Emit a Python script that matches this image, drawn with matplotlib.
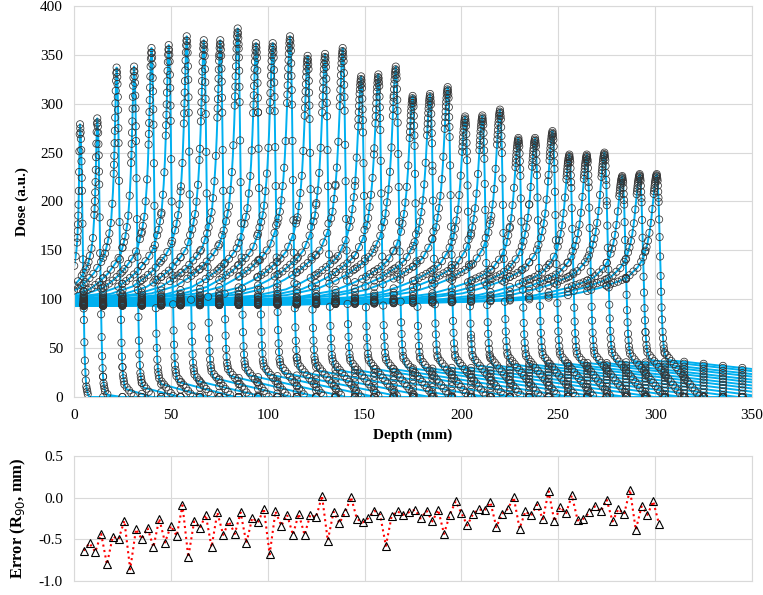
import numpy as np
import matplotlib.pyplot as plt
from matplotlib.ticker import MultipleLocator, FormatStrFormatter

plt.rcParams['font.family'] = 'Liberation Serif'
plt.rcParams['axes.unicode_minus'] = False

# Bragg curves: depth of the peak (mm), peak dose and fragment-tail dose (a.u.)
peak_depth = [3.1, 12.0, 22.0, 31.0, 40.0, 48.9, 58.2, 67.0, 75.5, 84.5,
              94.0, 102.6, 111.5, 120.6, 129.6, 138.7, 148.2, 157.1, 166.1, 174.8,
              183.8, 192.9, 201.9, 210.8, 219.9, 229.4, 238.0, 247.0, 255.7, 264.7,
              273.8, 283.0, 292.0, 300.8]
peak_dose = [279, 285, 337, 338, 357, 360, 369, 365, 365, 377,
             362, 362, 369, 349, 351, 357, 328, 330, 338, 308,
             310, 317, 287, 288, 294, 265, 265, 272, 248, 248,
             250, 226, 228, 228]
tail_dose = [0, 4, 11, 12, 16, 18, 19, 22, 24, 25,
             26, 27, 28, 29, 30, 30, 31, 31, 32, 32,
             33, 33, 34, 34, 35, 35, 36, 36, 37, 37,
             38, 38, 39, 39]
plateau_dose = 93

# shape: distance in front of the peak (mm) -> relative rise
rise_dist = [0, 0.5, 1, 1.5, 2, 3, 4, 5, 7, 10, 15, 20, 25, 30, 40, 50, 70, 100, 150, 200, 300, 1000]
rise_frac = [1, 0.97, 0.92, 0.85, 0.77, 0.63, 0.53, 0.46, 0.36, 0.29, 0.22, 0.185, 0.16, 0.135,
             0.10, 0.072, 0.045, 0.03, 0.018, 0.01, 0.0, 0.0]
# distal fall-off: distance behind the peak (mm) -> fraction left above the tail
fall_dist = [0, 0.5, 1, 1.5, 2, 2.5, 3, 3.5, 4, 5, 6, 1000]
fall_frac = [1, 0.96, 0.85, 0.66, 0.45, 0.28, 0.15, 0.08, 0.04, 0.01, 0, 0]

# R90 range error for every simulated energy (every 3 mm)
err_depth = np.arange(5, 303, 3)
err_r90 = [-0.635, -0.546, -0.65, -0.434, -0.80, -0.466, -0.498, -0.277, -0.86, -0.378,
           -0.498, -0.366, -0.594, -0.253, -0.538, -0.337, -0.458, -0.092, -0.715, -0.285,
           -0.366, -0.205, -0.594, -0.177, -0.446, -0.285, -0.434, -0.177, -0.546, -0.241,
           -0.297, -0.13, -0.68, -0.165, -0.337, -0.205, -0.446, -0.193, -0.446, -0.205,
           -0.237, 0.024, -0.514, -0.169, -0.305, -0.177, 0.008, -0.253, -0.297, -0.245,
           -0.157, -0.205, -0.578, -0.217, -0.165, -0.205, -0.173, -0.145, -0.249, -0.157,
           -0.285, -0.145, -0.434, -0.205, -0.044, -0.185, -0.333, -0.193, -0.141, -0.153,
           -0.056, -0.353, -0.193, -0.133, 0.004, -0.37, -0.165, -0.213, -0.084, -0.257,
           0.076, -0.285, -0.112, -0.185, 0.028, -0.273, -0.253, -0.177, -0.104, -0.165,
           -0.024, -0.285, -0.136, -0.196, 0.096, -0.386, -0.104, -0.205, -0.044, -0.317]

# coarse sampling of the dose data
coarse_depth = np.arange(5, 350, 10)

R_MAX = max(peak_depth)


def dose(x, k):
    R = peak_depth[k]
    P = peak_dose[k]
    w = (R / R_MAX) ** 0.35          # shallow peaks are narrower
    wd = 0.8 + 0.2 * R / R_MAX
    L = 0.6 * R + 5                  # tail length
    s = R - x
    prox = plateau_dose + (P - plateau_dose) * np.interp(s / w, rise_dist, rise_frac)
    tail = tail_dose[k] * np.clip(1 - (x - R) / L, 0, None)
    dist = tail + (P - tail) * np.interp(-s / wd, fall_dist, fall_frac)
    return np.where(x <= R, prox, dist)


fig = plt.figure(figsize=(7.63, 5.95), dpi=100)
ax = fig.add_axes([0.097, 0.3328, 0.8886, 0.6571])
ax2 = fig.add_axes([0.097, 0.0235, 0.8886, 0.2101])

x_fine = np.linspace(0, 350, 3501)
for k in range(len(peak_depth)):
    R = peak_depth[k]
    ax.plot(x_fine, dose(x_fine, k), color='#00B0F0', lw=1.4, zorder=2)

    # sampled points: coarse grid + denser around the peak
    dense = np.concatenate([np.arange(R - 26, R - 6, 2.0), np.arange(R - 6, R - 1.5, 0.75),
                            np.arange(R - 1.5, R + 1.0, 0.15), np.arange(R + 1.0, R + 4.25, 0.25)])
    xs = np.concatenate([coarse_depth, dense])
    xs = xs[(xs >= 0) & (xs <= 350)]
    ys = dose(xs, k)
    # data tail behind the knee drops faster than the fit
    knee = float(dose(np.array([R + 4.0]), k)[0])
    xt = R + 4 + np.arange(1.2, 40, 1.2)
    yt = knee - 2.5 * (xt - R - 4)
    keep = (yt >= 0) & (xt <= 350)
    xs = np.concatenate([xs, xt[keep]])
    ys = np.concatenate([ys, yt[keep]])
    ax.scatter(xs, ys, s=27, facecolors='none', edgecolors='#333333', linewidths=0.55, zorder=3)

ax.set_xlim(0, 350)
ax.set_ylim(0, 400)
ax.xaxis.set_major_locator(MultipleLocator(50))
ax.yaxis.set_major_locator(MultipleLocator(50))
ax.set_xlabel('Depth (mm)', fontweight='bold', fontsize=11, labelpad=4)
ax.set_ylabel('Dose (a.u.)', fontweight='bold', fontsize=11, labelpad=8)

ax2.plot(err_depth, err_r90, color='red', ls=':', lw=1.5, marker='^', ms=5.5,
         mfc='none', mec='black', mew=0.8, zorder=3)
ax2.set_xlim(0, 350)
ax2.set_ylim(-1.0, 0.5)
ax2.xaxis.set_major_locator(MultipleLocator(50))
ax2.yaxis.set_major_locator(MultipleLocator(0.5))
ax2.yaxis.set_major_formatter(FormatStrFormatter('%.1f'))
ax2.set_xticklabels([])
ax2.set_ylabel('Error (R$_{90}$, mm)', fontweight='bold', fontsize=12, labelpad=8)

for a in (ax, ax2):
    a.grid(True, color='#D9D9D9', lw=0.8)
    a.set_axisbelow(True)
    for sp in a.spines.values():
        sp.set_color('#D9D9D9')
    a.tick_params(length=0, labelsize=11, pad=8)
ax.tick_params(axis='x', pad=9)

fig.savefig('out.png', dpi=100)
